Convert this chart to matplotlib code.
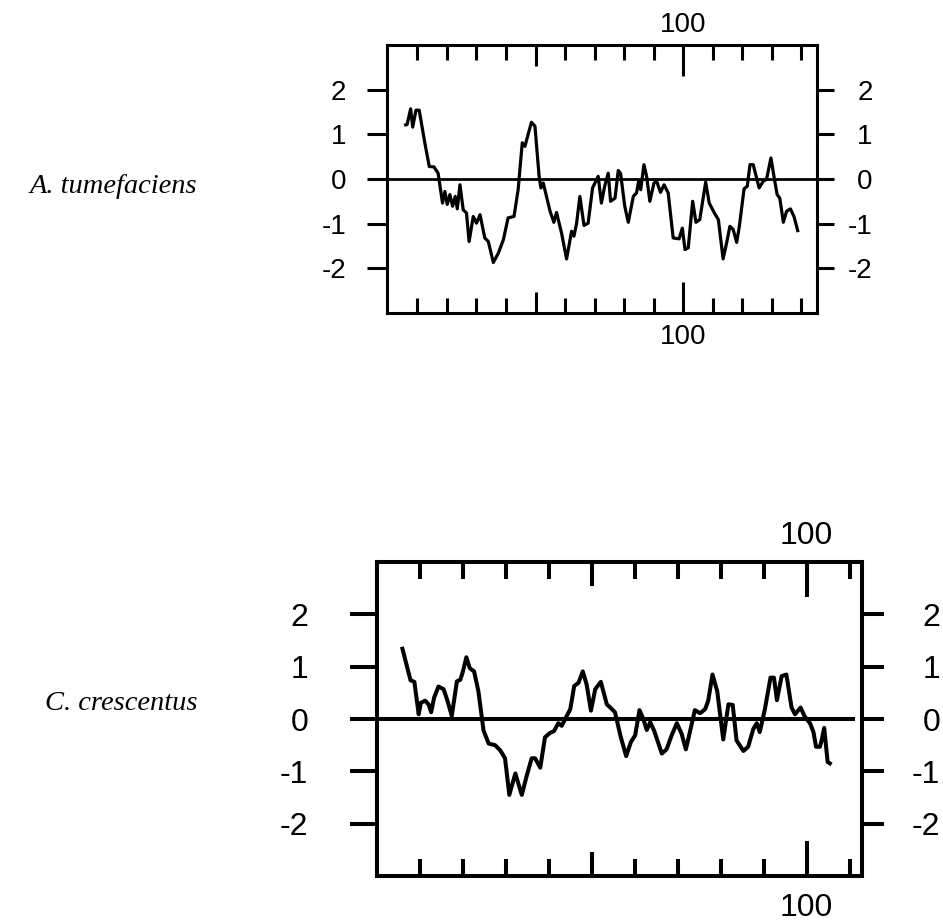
#!/usr/bin/env python3
"""Hydropathy profiles for two species, drawn as two framed panels."""
import matplotlib
matplotlib.use('Agg')
import matplotlib.pyplot as plt

# A. tumefaciens profile (residue position, score)
AT_POS = [5.5, 6.5, 7.7, 8.4, 9.5, 10.6, 12.5, 14.0, 15.6, 17.0, 18.5, 19.3, 20.1, 21.0,
          21.9, 22.8, 23.5, 24.4, 25.5, 26.6, 27.5, 28.9, 30.0, 31.2, 32.8, 34.0, 35.7,
          37.4, 39.1, 40.7, 42.7, 44.1, 45.5, 46.4, 47.9, 48.6, 49.8, 51.2, 51.8, 52.6,
          54.9, 56.2, 57.1, 58.8, 60.5, 62.2, 63.0, 63.9, 65.0, 66.4, 67.8, 69.3, 71.2,
          72.3, 73.4, 74.6, 75.4, 76.9, 78.0, 78.8, 80.2, 81.4, 83.1, 84.2, 84.9, 85.6,
          86.7, 87.6, 88.7, 90.1, 91.0, 92.3, 93.5, 94.9, 96.6, 98.6, 99.7, 100.6, 101.7,
          103.2, 104.3, 105.6, 107.6, 108.8, 110.7, 111.9, 113.5, 114.7, 115.8, 116.9,
          118.1, 119.0, 120.6, 121.7, 122.6, 123.7, 125.7, 127.1, 128.2, 129.7, 131.0,
          131.8, 132.7, 133.9, 135.0, 136.3, 137.5, 138.9]
AT_SCORE = [1.20, 1.22, 1.57, 1.16, 1.54, 1.54, 0.81, 0.28, 0.27, 0.13, -0.54, -0.28, -0.57,
            -0.35, -0.61, -0.39, -0.67, -0.13, -0.69, -0.76, -1.40, -0.84, -0.99, -0.80,
            -1.32, -1.40, -1.87, -1.66, -1.36, -0.87, -0.84, -0.24, 0.81, 0.73, 1.10, 1.27,
            1.18, 0.06, -0.20, -0.09, -0.72, -0.97, -0.75, -1.21, -1.79, -1.17, -1.28,
            -0.99, -0.39, -1.04, -0.99, -0.20, 0.06, -0.54, -0.16, 0.13, -0.50, -0.43, 0.19,
            0.12, -0.61, -0.97, -0.39, -0.31, -0.05, -0.24, 0.32, 0.06, -0.50, -0.09, -0.05,
            -0.30, -0.13, -0.31, -1.32, -1.34, -1.10, -1.58, -1.54, -0.50, -0.97, -0.91,
            -0.07, -0.54, -0.78, -0.91, -1.79, -1.43, -1.06, -1.13, -1.42, -1.06, -0.22,
            -0.16, 0.32, 0.32, -0.20, -0.05, -0.01, 0.47, -0.05, -0.35, -0.43, -0.97,
            -0.72, -0.67, -0.84, -1.19]

# C. crescentus profile
CC_POS = [5.8, 7.8, 8.7, 9.7, 10.2, 11.2, 12.0, 12.6, 13.3, 14.3, 15.5, 16.4, 17.4, 18.6,
          19.4, 20.0, 20.8, 21.6, 22.6, 23.6, 24.8, 26.0, 27.5, 28.7, 29.8, 30.8, 32.2,
          33.7, 34.9, 36.0, 36.8, 38.0, 39.1, 40.2, 41.2, 42.2, 43.0, 43.8, 45.0, 45.9,
          46.9, 47.9, 48.8, 49.8, 50.8, 52.1, 53.5, 54.3, 55.4, 56.7, 58.0, 59.1, 60.1,
          61.1, 62.0, 62.8, 63.6, 64.5, 66.3, 67.4, 68.6, 69.8, 70.9, 71.9, 73.0, 74.0,
          75.2, 76.4, 77.1, 78.1, 79.2, 80.6, 81.8, 82.8, 83.7, 85.3, 86.4, 87.6, 88.4,
          89.1, 90.3, 91.6, 92.4, 93.1, 94.2, 95.3, 96.5, 97.3, 98.6, 99.6, 100.8, 101.6,
          102.2, 103.1, 103.5, 104.1, 104.9, 105.8]
CC_SCORE = [1.38, 0.74, 0.71, 0.09, 0.31, 0.35, 0.28, 0.13, 0.41, 0.62, 0.57, 0.35, 0.06,
            0.72, 0.75, 0.91, 1.18, 0.97, 0.91, 0.53, -0.22, -0.47, -0.50, -0.60, -0.75,
            -1.45, -1.04, -1.45, -1.07, -0.75, -0.75, -0.93, -0.35, -0.27, -0.23, -0.08,
            -0.13, 0.00, 0.19, 0.63, 0.69, 0.91, 0.66, 0.16, 0.57, 0.71, 0.28, 0.22, 0.13,
            -0.33, -0.71, -0.44, -0.31, 0.17, 0.00, -0.21, -0.06, -0.22, -0.66, -0.58,
            -0.31, -0.08, -0.28, -0.58, -0.19, 0.17, 0.11, 0.19, 0.35, 0.85, 0.53, -0.39,
            0.28, 0.27, -0.41, -0.61, -0.53, -0.19, -0.08, -0.25, 0.19, 0.79, 0.79, 0.36,
            0.82, 0.85, 0.22, 0.09, 0.22, 0.04, -0.08, -0.25, -0.53, -0.53, -0.41, -0.17,
            -0.82, -0.87]

Y_TICKS = [-2, -1, 0, 1, 2]
Y_LABELS = ['-2', '-1', '0', '1', '2']
X_LABEL_TICK = 100
X_MID_TICK = 50

SANS = 'Liberation Sans'
SERIF = 'Liberation Serif'


def draw_panel(fig, rect, pos, score, xlim, last_tick, s):
    """s: dict of sizes for this panel."""
    ax = fig.add_axes(rect)
    ax.plot(pos, score, color='black', lw=s['lw'], solid_joinstyle='round',
            solid_capstyle='butt')
    ax.axhline(0, xmax=s['zero_end'], color='black', lw=s['zero_lw'])
    ax.set_xlim(*xlim)
    ax.set_ylim(-3, 3)
    for sp in ax.spines.values():
        sp.set_linewidth(s['frame'])

    # x ticks: short every 10, medium at 50, long + label at 100
    minor = [t for t in range(10, last_tick + 1, 10) if t not in (X_MID_TICK, X_LABEL_TICK)]
    ax.set_xticks([X_LABEL_TICK], [str(X_LABEL_TICK)])
    ax.set_xticks(minor, minor=True)
    ax.tick_params(axis='x', which='major', direction='in', length=s['xlong'],
                   width=s['tw'], top=True, bottom=True, labeltop=False, labelbottom=True,
                   labelsize=s['fs'], pad=s['xpad_b'])
    ax.tick_params(axis='x', which='minor', direction='in', length=s['xshort'],
                   width=s['tw'], top=True, bottom=True)
    for side in ('top', 'bottom'):
        sec = ax.secondary_xaxis(side)
        sec.set_xticks([X_MID_TICK], [''])
        sec.spines[side].set_visible(False)
        sec.tick_params(direction='in', length=s['xmid'], width=s['tw'])
    # label above the frame
    lab_top = ax.secondary_xaxis('top')
    lab_top.spines['top'].set_visible(False)
    lab_top.set_xticks([X_LABEL_TICK], [str(X_LABEL_TICK)])
    lab_top.tick_params(length=0, labelsize=s['fs'], pad=s['xpad_t'])

    # y ticks: outward on both sides
    ax.set_yticks(Y_TICKS, Y_LABELS)
    ax.tick_params(axis='y', direction='out', length=s['yleft'], width=s['tw'],
                   labelsize=s['fs'], pad=s['ylpad'])
    secy = ax.secondary_yaxis('right')
    secy.spines['right'].set_visible(False)
    secy.set_yticks(Y_TICKS, Y_LABELS)
    secy.tick_params(direction='out', length=s['yright'], width=s['tw'],
                     labelsize=s['fs'], pad=s['yrpad'])
    for lab in secy.get_yticklabels():
        lab.set_horizontalalignment('right')
    for a in (ax, secy, lab_top):
        for lab in a.get_xticklabels() + a.get_yticklabels():
            lab.set_fontfamily(SANS)
    return ax


def main():
    fig = plt.figure(figsize=(9.43, 9.23), dpi=100)

    top_sizes = dict(lw=2.3, zero_lw=2.0, frame=2.2, tw=2.2, fs=20, xpad_b=8, xpad_t=5,
                     xlong=22, xmid=15, xshort=11, yleft=14.5, yright=12, ylpad=15,
                     yrpad=28, zero_end=1.0)
    bot_sizes = dict(lw=2.9, zero_lw=2.9, frame=2.9, tw=2.9, fs=23, xpad_b=12, xpad_t=8,
                     xlong=25, xmid=17, xshort=12, yleft=19.5, yright=15.5, ylpad=30,
                     yrpad=41, zero_end=0.981)

    draw_panel(fig, [0.4104, 0.6609, 0.456, 0.2904], AT_POS, AT_SCORE,
               (-0.3, 145.3), 140, top_sizes)
    draw_panel(fig, [0.3998, 0.0509, 0.5143, 0.3402], CC_POS, CC_SCORE,
               (0.0, 112.9), 110, bot_sizes)

    fig.text(0.209, 0.791, 'A. tumefaciens', family=SERIF, style='italic',
             fontsize=20.5, ha='right', va='baseline')
    fig.text(0.209, 0.2308, 'C. crescentus', family=SERIF, style='italic',
             fontsize=20.5, ha='right', va='baseline')

    fig.savefig('out.png', dpi=100)
    plt.close(fig)


if __name__ == '__main__':
    main()
